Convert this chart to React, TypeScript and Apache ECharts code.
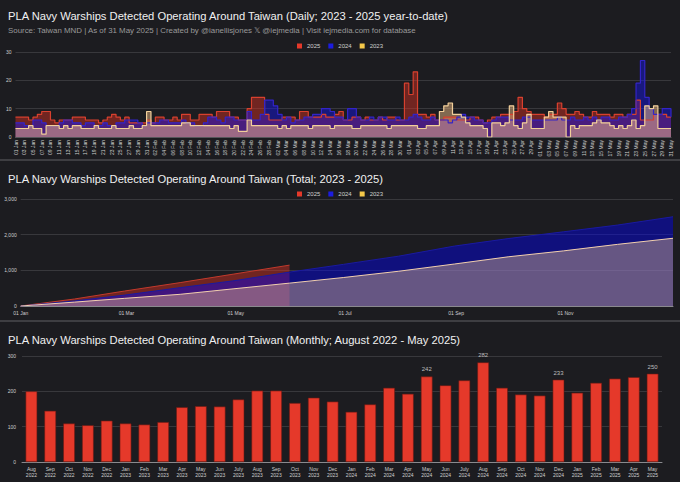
import React, { useEffect, useRef } from "react";
import * as echarts from "echarts";

const MONTHS = ["Jan", "Feb", "Mar", "Apr", "May", "Jun", "Jul", "Aug", "Sep", "Oct", "Nov", "Dec"];
const MONTH_DAYS = [31, 28, 31, 30, 31, 30, 31, 31, 30, 31, 30, 31];
const AXIS_MONTHS = ["Jan", "Mar", "May", "Jul", "Sep", "Nov"];

const dayLabels: string[] = [];
MONTHS.forEach((m, i) => {
  for (let d = 1; d <= MONTH_DAYS[i]; d++) dayLabels.push(String(d).padStart(2, "0") + " " + m);
});
const dailyDays = dayLabels.slice(0, 151);

const daily2025 = [
  7, 7, 7, 6, 7, 8, 9, 9, 6, 5, 6, 6, 6, 7, 7, 7, 6, 6, 6, 5, 6, 7, 8, 7, 6, 7, 5, 5, 5, 5, 6,
  5, 7, 7, 6, 6, 7, 6, 8, 8, 6, 6, 8, 8, 8, 7, 9, 9, 9, 7, 7, 6, 6, 10, 14, 14, 14, 8, 6,
  6, 6, 7, 7, 7, 6, 9, 9, 7, 7, 7, 8, 7, 7, 8, 9, 6, 6, 7, 7, 6, 7, 6, 6, 7, 6, 7, 7, 6, 6, 19,
  15, 23, 8, 8, 7, 8, 6, 6, 7, 7, 7, 6, 6, 6, 7, 7, 6, 5, 6, 7, 7, 8, 8, 8, 9, 14, 10, 9, 8, 8,
  8, 7, 8, 8, 12, 10, 8, 8, 9, 8, 7, 7, 9, 8, 8, 8, 7, 8, 8, 7, 8, 8, 13, 6, 6, 6, 8, 8, 8, 7, 7,
];
const daily2024 = [
  5, 5, 4, 4, 6, 6, 5, 4, 4, 4, 5, 6, 6, 5, 5, 4, 5, 5, 4, 4, 5, 4, 4, 5, 5, 6, 6, 6, 5, 4, 5,
  5, 5, 6, 6, 5, 5, 5, 6, 5, 5, 4, 4, 5, 7, 7, 6, 5, 7, 7, 6, 6, 6, 9, 6, 6, 8, 13, 13,
  11, 8, 6, 7, 5, 6, 6, 7, 7, 8, 8, 10, 10, 9, 7, 7, 6, 10, 10, 7, 6, 6, 7, 6, 7, 7, 6, 6, 7, 6, 6,
  7, 8, 7, 6, 6, 7, 6, 6, 6, 5, 6, 7, 8, 7, 7, 6, 6, 5, 5, 6, 7, 7, 7, 6, 6, 6, 7, 7, 6, 6,
  6, 6, 6, 6, 7, 6, 6, 7, 6, 6, 7, 6, 7, 6, 7, 7, 6, 6, 7, 7, 8, 10, 19, 27, 14, 10, 8, 8, 10, 10, 7,
];
const daily2023 = [
  3, 3, 3, 4, 3, 3, 1, 4, 4, 4, 3, 4, 3, 4, 4, 3, 3, 3, 4, 3, 3, 3, 4, 3, 3, 3, 4, 3, 3, 4, 9,
  4, 4, 4, 4, 4, 4, 4, 5, 5, 4, 4, 4, 4, 4, 4, 4, 4, 4, 3, 4, 2, 2, 6, 4, 4, 4, 4, 4,
  4, 3, 4, 3, 4, 4, 4, 4, 3, 4, 4, 4, 4, 3, 4, 4, 4, 4, 3, 3, 4, 4, 4, 4, 4, 4, 3, 4, 4, 4, 4,
  4, 4, 3, 3, 4, 4, 4, 9, 11, 12, 8, 8, 7, 5, 4, 4, 4, 3, 0, 5, 5, 4, 5, 11, 4, 3, 5, 8, 3, 3,
  3, 7, 9, 7, 7, 7, 0, 4, 3, 4, 4, 4, 5, 6, 5, 5, 4, 3, 4, 3, 4, 6, 3, 4, 11, 10, 11, 3, 3, 3, 3,
];

const monthCategories = [
  "Aug\n2022", "Sep\n2022", "Oct\n2022", "Nov\n2022", "Dec\n2022",
  "Jan\n2023", "Feb\n2023", "Mar\n2023", "Apr\n2023", "May\n2023", "Jun\n2023", "July\n2023",
  "Aug\n2023", "Sep\n2023", "Oct\n2023", "Nov\n2023", "Dec\n2023",
  "Jan\n2024", "Feb\n2024", "Mar\n2024", "Apr\n2024", "May\n2024", "Jun\n2024", "July\n2024",
  "Aug\n2024", "Sep\n2024", "Oct\n2024", "Nov\n2024", "Dec\n2024",
  "Jan\n2025", "Feb\n2025", "Mar\n2025", "Apr\n2025", "May\n2025",
];
const monthlyTotals = [
  200, 145, 109, 104, 117,
  109, 106, 113, 155, 158, 157, 177, 202, 202, 167, 182, 171,
  142, 163, 210, 193, 242, 217, 231, 282, 210, 191, 188, 233,
  196, 224, 236, 240, 250,
];
const labelledMonths = ["May\n2024", "Aug\n2024", "Dec\n2024", "May\n2025"];

const monthly2023 = monthlyTotals.slice(5, 17);
const monthly2024 = monthlyTotals.slice(17, 29);
const monthly2025 = monthlyTotals.slice(29, 34);

const monthEndIndex: number[] = [];
MONTH_DAYS.reduce((acc, n) => {
  monthEndIndex.push(acc + n - 1);
  return acc + n;
}, 0);

function cumulative(months: number[]) {
  const out: [number, number][] = [[0, 0]];
  let s = 0;
  months.forEach((v, i) => {
    s += v;
    out.push([monthEndIndex[i], s]);
  });
  return out;
}

const FONT = "'Liberation Sans', Arial, sans-serif";
const RED = "#e5392a";
const BLUE = "#1c1ce0";
const YELLOW = "#f4c84a";

export default function App() {
  const ref = useRef<HTMLDivElement>(null);
  useEffect(() => {
    document.body.style.margin = "0";
    const chart = echarts.init(ref.current!, null, { renderer: "svg" });
    const legendCommon = {
      data: ["2025", "2024", "2023"],
      left: "center",
      icon: "rect",
      itemWidth: 5,
      itemHeight: 5,
      itemGap: 8,
      textStyle: { color: "#cfcfcf", fontSize: 6, fontFamily: FONT },
    };
    const titleStyle = { color: "#f0f0f0", fontSize: 11.2, fontWeight: "normal" as const, fontFamily: FONT };
    const smallLabel = { color: "#cfcfcf", fontSize: 5, fontFamily: FONT };
    const gridLine = { lineStyle: { color: "#38383c", width: 1 } };

    const dailySeries = (name: string, data: number[], line: string, fill: string, c: string) => ({
      type: "line",
      name,
      xAxisIndex: 0,
      yAxisIndex: 0,
      step: "end",
      symbol: "none",
      data,
      color: c,
      lineStyle: { color: line, width: 1.2 },
      areaStyle: { color: fill, opacity: 1 },
    });
    const cumSeries = (name: string, data: [number, number][], line: string, fill: string, c: string) => ({
      type: "line",
      name,
      xAxisIndex: 1,
      yAxisIndex: 1,
      symbol: "none",
      data,
      color: c,
      lineStyle: { color: line, width: 1 },
      areaStyle: { color: fill, opacity: 1 },
    });

    chart.setOption({
      animation: false,
      backgroundColor: "#1c1c20",
      title: [
        {
          text: "PLA Navy Warships Detected Operating Around Taiwan (Daily; 2023 - 2025 year-to-date)",
          subtext:
            "Source: Taiwan MND | As of 31 May 2025 | Created by @ianellisjones 𝕏 @iejmedia | Visit iejmedia.com for database",
          left: 3,
          top: 5,
          itemGap: 5,
          textStyle: titleStyle,
          subtextStyle: { color: "#9a9a9a", fontSize: 7.9, fontFamily: FONT },
        },
        {
          text: "PLA Navy Warships Detected Operating Around Taiwan (Total; 2023 - 2025)",
          left: 3,
          top: 168,
          textStyle: titleStyle,
        },
        {
          text: "PLA Navy Warships Detected Operating Around Taiwan (Monthly; August 2022 - May 2025)",
          left: 3,
          top: 329,
          textStyle: titleStyle,
        },
      ],
      legend: [
        { ...legendCommon, top: 38 },
        { ...legendCommon, top: 186 },
      ],
      graphic: [
        { type: "rect", shape: { x: 0, y: 159, width: 680, height: 2 }, style: { fill: "#3e3e42" } },
        { type: "rect", shape: { x: 0, y: 320, width: 680, height: 2 }, style: { fill: "#3e3e42" } },
      ],
      grid: [
        { left: 15.5, right: 9, top: 52, height: 85 },
        { left: 20.7, right: 7, top: 199, height: 107 },
        { left: 22, right: 18, top: 356, height: 106 },
      ],
      xAxis: [
        {
          type: "category",
          gridIndex: 0,
          data: dailyDays,
          boundaryGap: false,
          axisTick: { show: false },
          axisLine: { lineStyle: { color: "#55555a" } },
          axisLabel: { ...smallLabel, rotate: 90, interval: 1, margin: 3 },
        },
        {
          type: "category",
          gridIndex: 1,
          data: dayLabels,
          boundaryGap: false,
          axisTick: { show: false },
          axisLine: { lineStyle: { color: "#8a8a8e" } },
          axisLabel: {
            ...smallLabel,
            margin: 4,
            interval: (_i: number, v: string) => v.startsWith("01 ") && AXIS_MONTHS.includes(v.slice(3)),
          },
        },
        {
          type: "category",
          gridIndex: 2,
          data: monthCategories,
          axisTick: { show: false },
          axisLine: { lineStyle: { color: "#8a8a8e" } },
          axisLabel: { ...smallLabel, interval: 0, lineHeight: 6, margin: 4 },
        },
      ],
      yAxis: [
        {
          type: "value",
          gridIndex: 0,
          min: 0,
          max: 30,
          interval: 10,
          axisLabel: { ...smallLabel, margin: 4 },
          splitLine: gridLine,
        },
        {
          type: "value",
          gridIndex: 1,
          min: 0,
          max: 3000,
          interval: 1000,
          axisLabel: {
            ...smallLabel,
            margin: 4,
            formatter: (v: number) => v.toLocaleString("en-US"),
          },
          splitLine: gridLine,
        },
        {
          type: "value",
          gridIndex: 2,
          min: 0,
          max: 300,
          interval: 100,
          axisLabel: { ...smallLabel, margin: 6 },
          splitLine: gridLine,
        },
      ],
      series: [
        dailySeries("2025", daily2025, "#d8402e", "rgba(230,50,35,0.42)", RED),
        dailySeries("2024", daily2024, "#3324c8", "rgba(20,20,255,0.42)", BLUE),
        dailySeries("2023", daily2023, "#f2cf9a", "rgba(255,200,140,0.45)", YELLOW),
        cumSeries("2025", cumulative(monthly2025), "#c23a2c", "rgba(230,50,35,0.42)", RED),
        cumSeries("2024", cumulative(monthly2024), "#1a1aa0", "rgba(0,0,255,0.42)", BLUE),
        cumSeries("2023", cumulative(monthly2023), "#f2cfae", "rgba(255,210,140,0.36)", YELLOW),
        {
          type: "bar",
          name: "Monthly",
          xAxisIndex: 2,
          yAxisIndex: 2,
          barWidth: "62%",
          data: monthlyTotals.map((v, i) => ({
            value: v,
            label: { show: labelledMonths.includes(monthCategories[i]) },
          })),
          itemStyle: { color: RED, borderColor: "#6a1a12", borderWidth: 0.6 },
          label: { position: "top", distance: 4, color: "#bdbdbd", fontSize: 6, fontFamily: FONT },
        },
      ],
    });
    return () => chart.dispose();
  }, []);
  return (
    <div
      ref={ref}
      style={{ position: "absolute", left: 0, top: 0, width: 680, height: 482 }}
    />
  );
}
